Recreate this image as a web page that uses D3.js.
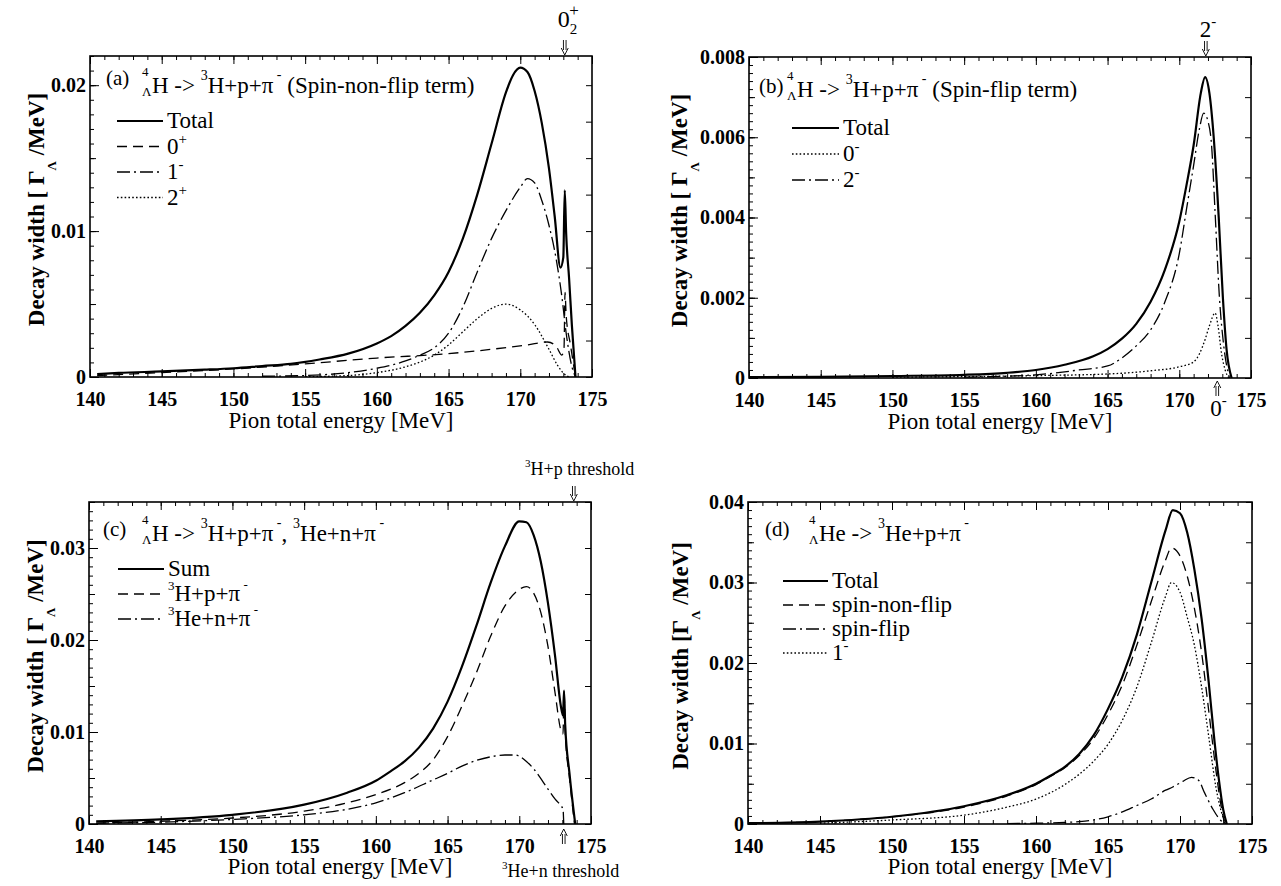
<!DOCTYPE html>
<html>
<head>
<meta charset="utf-8">
<script src="https://cdn.jsdelivr.net/npm/d3@7"></script>
<style>
  body { margin: 0; background: #fff; }
  svg { display: block; background: #fff; }
</style>
</head>
<body>
<div id="chart"></div>
<script>
// ---------------- data (pion energy [MeV], decay width [Gamma_Lambda/MeV]) ----------------
const energyTicks = [140, 145, 150, 155, 160, 165, 170, 175];
const yTicksA = [0, 0.01, 0.02];
const yTicksB = [0, 0.002, 0.004, 0.006, 0.008];
const yTicksC = [0, 0.01, 0.02, 0.03];
const yTicksD = [0, 0.01, 0.02, 0.03, 0.04];

// (a) spin-non-flip term
const aTotal = [[140.5,0.0002],[142,0.00028],[145,0.00038],[148,0.0005],[150,0.0006],[152,0.00075],[154,0.0009],[156,0.0012],[158,0.0016],[160,0.0023],[161,0.0028],[162,0.0035],[163,0.0044],[164,0.0056],[165,0.0072],[166,0.0095],[167,0.0125],[168,0.016],[169,0.0195],[169.5,0.0207],[170,0.0212],[170.5,0.0209],[171,0.0196],[171.5,0.0174],[172,0.0143],[172.4,0.011],[172.8,0.0075],[173.0,0.0082],[173.1,0.0128],[173.2,0.0098],[173.4,0.0068],[173.6,0.0035],[173.85,0]];
const aZeroPlus = [[140.5,0.0001],[145,0.0003],[150,0.00055],[155,0.0009],[160,0.0013],[165,0.0016],[168,0.0019],[170.5,0.0022],[171.9,0.0024],[172.5,0.0021],[172.9,0.0015],[173.05,0.002],[173.12,0.0058],[173.2,0.0042],[173.5,0.0022],[173.85,0]];
const aOneMinus = [[152,0.00005],[155,0.0001],[158,0.0003],[160,0.0006],[162,0.0011],[163,0.0015],[164,0.002],[165,0.003],[166,0.0048],[167,0.0072],[168,0.0095],[169,0.0114],[170,0.013],[170.5,0.0136],[171,0.0133],[171.5,0.0121],[172,0.0104],[172.5,0.0081],[172.9,0.0055],[173.2,0.003],[173.6,0.0007],[173.85,0]];
const aTwoPlus = [[155,0.00002],[158,0.0001],[160,0.0003],[162,0.0007],[164,0.0015],[165,0.0022],[166,0.0031],[167,0.004],[168,0.0047],[169,0.005],[170,0.0046],[171,0.0036],[172,0.0019],[172.6,0.0008],[173.2,0.0001],[173.4,0]];

// (b) spin-flip term
const bTotal = [[140,0.00002],[145,0.00003],[150,0.00005],[155,0.00008],[158,0.00013],[160,0.0002],[162,0.00033],[164,0.00054],[165,0.00072],[166,0.00098],[167,0.00135],[168,0.0019],[169,0.0027],[170,0.0039],[170.5,0.0048],[171,0.0058],[171.5,0.0071],[171.8,0.0075],[172.1,0.0071],[172.4,0.006],[172.75,0.004],[173.04,0.002],[173.3,0.0007],[173.65,0]];
const bZeroMinus = [[150,0.00002],[160,0.00006],[165,0.0001],[168,0.00018],[170,0.00028],[171,0.0004],[171.4,0.0006],[171.8,0.00096],[172.1,0.0013],[172.5,0.00162],[172.7,0.0013],[172.95,0.0006],[173.2,0.0002],[173.45,0]];
const bTwoMinus = [[155,0.00002],[160,0.00008],[163,0.0002],[165,0.0003],[166,0.0005],[167,0.0008],[168,0.0012],[169,0.0019],[170,0.0031],[170.5,0.0042],[171,0.0053],[171.4,0.0062],[171.7,0.0066],[172,0.0064],[172.25,0.0058],[172.5,0.0041],[172.8,0.002],[173.1,0.0008],[173.5,0]];

// (c) both channels
const cSum = [[140.5,0.0003],[145,0.0005],[150,0.001],[155,0.0021],[158,0.0034],[160,0.0047],[161,0.0057],[162,0.0068],[163,0.0083],[164,0.0104],[165,0.0133],[166,0.0171],[167,0.0215],[168,0.0262],[169,0.0302],[170,0.0329],[170.5,0.0328],[171,0.0314],[171.5,0.0285],[172,0.024],[172.5,0.0182],[172.9,0.0128],[173.05,0.0118],[173.12,0.0145],[173.2,0.0108],[173.5,0.0055],[173.9,0]];
const cTritonP = [[140.5,0.0001],[145,0.0003],[150,0.00065],[155,0.0014],[158,0.0023],[160,0.0032],[162,0.0045],[163,0.0055],[164,0.007],[165,0.0095],[166,0.0128],[167,0.0164],[168,0.0204],[169,0.0237],[170,0.0255],[170.5,0.0258],[171,0.0251],[171.5,0.023],[172,0.0193],[172.5,0.0142],[172.9,0.0102],[173.05,0.0098],[173.12,0.0146],[173.2,0.01],[173.5,0.005],[173.85,0]];
const cHelionN = [[140.5,0.0001],[145,0.0002],[150,0.0005],[155,0.001],[158,0.0016],[160,0.0023],[162,0.0034],[164,0.0048],[165,0.0055],[166,0.0063],[167,0.0069],[168,0.0073],[169,0.0075],[169.7,0.0075],[170.5,0.0068],[171,0.006],[172,0.0038],[172.5,0.0027],[172.9,0.002],[173.05,0.0016],[173.1,0]];

// (d) 4He_Lambda
const dTotal = [[140,0.0001],[145,0.0003],[150,0.0009],[155,0.0022],[158,0.0036],[160,0.005],[161,0.006],[162,0.0071],[163,0.0087],[164,0.011],[165,0.0143],[166,0.0183],[167,0.0235],[168,0.03],[169,0.0365],[169.5,0.039],[170,0.0386],[170.5,0.0362],[171,0.0316],[171.5,0.0255],[172,0.0175],[172.4,0.0102],[172.7,0.0055],[173,0.0018],[173.25,0]];
const dNonFlip = [[140,0.0001],[145,0.0003],[150,0.0009],[155,0.0021],[158,0.0035],[160,0.0049],[161,0.0059],[162,0.007],[163,0.0085],[164,0.0106],[165,0.0136],[166,0.0173],[167,0.0222],[168,0.0276],[169,0.0328],[169.4,0.0343],[170,0.0333],[170.5,0.0308],[171,0.0268],[171.5,0.0213],[172,0.014],[172.5,0.0066],[172.8,0.0028],[173.1,0]];
const dFlip = [[158,0.00005],[160,0.0001],[162,0.0002],[163,0.0003],[164,0.0005],[165,0.0009],[166,0.0015],[167,0.0023],[168,0.0031],[169,0.0042],[169.5,0.0046],[170.2,0.0053],[170.8,0.0058],[171.3,0.0054],[171.7,0.0039],[172.3,0.0018],[172.8,0.0005],[173.2,0]];
const dOneMinus = [[145,0.0001],[150,0.0005],[155,0.0011],[158,0.0021],[160,0.0031],[162,0.0049],[164,0.0078],[165,0.0099],[166,0.0129],[167,0.017],[168,0.0225],[169,0.0283],[169.4,0.03],[170,0.0288],[170.5,0.0257],[171,0.0222],[171.5,0.017],[172,0.0108],[172.5,0.0045],[173,0.0008],[173.2,0]];

// ---------------- helpers ----------------
const W = 1281, H = 886;
const SERIF = "'Liberation Serif', 'DejaVu Serif', 'Times New Roman', serif";
const svg = d3.select("#chart").append("svg").attr("width", W).attr("height", H)
    .attr("font-family", SERIF);

const dashes = { solid: null, dashed: "10,6", dashdot: "13,4,2,4", dotted: "1.6,2.2" };

// part shortcuts for rich text: baseline offsets are absolute
const n = (t) => ({t: t});
const sup = (t, s, dy) => ({t: t, s: s || 14, dy: dy === undefined ? -10 : dy});
const sub = (t, s, dy) => ({t: t, s: s || 13, dy: dy === undefined ? 5 : dy});

function rich(g, x, y, size, parts, weight) {
    let text = g.append("text").attr("x", x).attr("y", y).attr("font-size", size)
        .attr("font-family", SERIF).attr("fill", "#000");
    if (weight) text.attr("font-weight", weight);
    let shift = 0;
    parts.forEach(function(p){
        let target = p.dy || 0;
        let ts = text.append("tspan").text(p.t).attr("dy", target - shift).attr("font-size", p.s || size);
        if (p.dx) ts.attr("dx", p.dx);
        shift = target;
    });
    return text;
}

// nucleus symbol with stacked mass number (4) over Lambda
function hyper(sym) {
    return [sup("4", 13, -17), {t: "\u039B", s: 13, dy: 3, dx: -6.5}, {t: sym, dx: 0.5}];
}

function arrow(g, x, yTip, dir) {
    // dir = 1 points down, -1 points up
    let y0 = yTip - dir * 15, y1 = yTip - dir * 5;
    g.append("line").attr("x1", x - 1.3).attr("x2", x - 1.3).attr("y1", y0).attr("y2", y1).attr("stroke", "#000").attr("stroke-width", 0.9);
    g.append("line").attr("x1", x + 1.3).attr("x2", x + 1.3).attr("y1", y0).attr("y2", y1).attr("stroke", "#000").attr("stroke-width", 0.9);
    g.append("path").attr("d", `M${x - 3.5},${yTip - dir * 7} L${x},${yTip} L${x + 3.5},${yTip - dir * 7}`)
        .attr("fill", "none").attr("stroke", "#000").attr("stroke-width", 0.9);
}

/** Class drawing one decay-width panel. */
class DecayPanel {

    constructor(cfg) {
        this.cfg = cfg;
        this.g = svg.append("g");
        this.x = d3.scaleLinear().domain([140, 175]).range([cfg.l, cfg.r]);
        this.y = d3.scaleLinear().domain([0, cfg.yMax]).range([cfg.b, cfg.t]);
    }

    axes() {
        let c = this.cfg, g = this.g, x = this.x, y = this.y;
        let minorE = d3.range(140, 175.5, 1);
        let eps = c.yMax * 1e-6;
        let minorY = d3.range(0, c.yMax + eps, c.yMinor);
        let midY = d3.range(0, c.yMax + eps, c.yMid);
        let rightY = d3.range(0, c.yMax + eps, c.yRight);
        let clean = s => { s.select(".domain").remove(); s.selectAll("line").attr("stroke-width", 1); };
        let boldText = s => s.attr("font-family", SERIF).selectAll("text")
            .attr("font-size", 20).attr("font-weight", "bold").attr("font-family", SERIF);

        // bottom and top
        g.append("g").attr("transform", `translate(0,${c.b})`).call(d3.axisBottom(x).tickValues(minorE).tickSize(-4).tickFormat("")).call(clean);
        g.append("g").attr("transform", `translate(0,${c.b})`)
            .call(d3.axisBottom(x).tickValues(energyTicks).tickSize(-8).tickPadding(15).tickFormat(d3.format("d")))
            .call(clean).call(boldText);
        g.append("g").attr("transform", `translate(0,${c.t})`).call(d3.axisTop(x).tickValues(minorE).tickSize(-4).tickFormat("")).call(clean);
        g.append("g").attr("transform", `translate(0,${c.t})`).call(d3.axisTop(x).tickValues(energyTicks).tickSize(-8).tickFormat("")).call(clean);

        // left
        g.append("g").attr("transform", `translate(${c.l},0)`).call(d3.axisLeft(y).tickValues(minorY).tickSize(-4).tickFormat("")).call(clean);
        g.append("g").attr("transform", `translate(${c.l},0)`).call(d3.axisLeft(y).tickValues(midY).tickSize(-6).tickFormat("")).call(clean);
        g.append("g").attr("transform", `translate(${c.l},0)`)
            .call(d3.axisLeft(y).tickValues(c.yTicks).tickSize(-9).tickPadding(4)
                .tickFormat(d => d === 0 ? "0" : d3.format(".3~f")(d)))
            .call(clean).call(boldText);
        // right
        g.append("g").attr("transform", `translate(${c.r},0)`).call(d3.axisRight(y).tickValues(rightY).tickSize(-6).tickFormat("")).call(clean);

        g.append("rect").attr("x", c.l).attr("y", c.t).attr("width", c.r - c.l).attr("height", c.b - c.t)
            .attr("fill", "none").attr("stroke", "#000").attr("stroke-width", 1.6);

        // axis titles
        rich(g, (c.l + c.r) / 2, c.b + c.xTitleDy, 23, [n("Pion total energy [MeV]")]).attr("text-anchor", "middle");
        let yt = g.append("g").attr("transform", `translate(${c.l - c.yTitleDx},${(c.t + c.b) / 2 - 7}) rotate(-90)`);
        rich(yt, 0, 0, 23, [n(c.yTitle), {t: "\u039B", s: 13, dy: 12}, {t: " /MeV]", dy: 0}], "bold").attr("text-anchor", "middle");
    }

    update(series) {
        let self = this, c = this.cfg;
        let clipId = "clip-" + c.id;
        this.g.append("clipPath").attr("id", clipId).append("rect")
            .attr("x", c.l).attr("y", c.t - 2).attr("width", c.r - c.l).attr("height", c.b - c.t + 2);
        let line = d3.line().x(d => self.x(d[0])).y(d => self.y(d[1])).curve(d3.curveMonotoneX);

        this.g.append("g").attr("clip-path", `url(#${clipId})`)
            .selectAll("path").data(series).enter().append("path")
            .attr("d", d => line(d.values))
            .attr("fill", "none")
            .attr("stroke", "#000")
            .attr("stroke-width", d => d.style === "solid" ? 2.2 : 1.3)
            .attr("stroke-dasharray", d => dashes[d.style]);

        // legend
        let lg = this.g.append("g");
        series.forEach(function(s, i){
            let yb = c.legend.y + i * c.legend.step;
            lg.append("line").attr("x1", c.legend.x1).attr("x2", c.legend.x2)
                .attr("y1", yb - 7).attr("y2", yb - 7)
                .attr("stroke", "#000").attr("stroke-width", s.style === "solid" ? 2.2 : 1.3)
                .attr("stroke-dasharray", dashes[s.style]);
            rich(lg, c.legend.x2 + 4, yb, 23, s.label);
        });

        // panel heading
        rich(this.g, c.tag.x, c.tag.y, 21, [n(c.tag.t)]);
        rich(this.g, c.head.x, c.head.y, 23, c.head.parts);
    }
}

// ---------------- panels ----------------
const panelA = new DecayPanel({id: "a", l: 90, r: 592, t: 56, b: 377, yMax: 0.022, yTicks: yTicksA,
    yMinor: 0.001, yMid: 0.005, yRight: 0.0025, xTitleDy: 51, yTitleDx: 46, yTitle: "Decay width  [ \u0393",
    legend: {x1: 117, x2: 163, y: 128, step: 25.5},
    tag: {x: 106, y: 85, t: "(a)"},
    head: {x: 142, y: 93, parts: hyper("H -> ").concat([sup("3", 14, -13), n("H+p+\u03C0"), sup(" -", 14, -14), n(" (Spin-non-flip term)")])}});
panelA.axes();
panelA.update([
    {values: aTotal, style: "solid", label: [n("Total")]},
    {values: aZeroPlus, style: "dashed", label: [n("0"), sup("+", 15)]},
    {values: aOneMinus, style: "dashdot", label: [n("1"), sup("-", 15)]},
    {values: aTwoPlus, style: "dotted", label: [n("2"), sup("+", 15)]}
]);

const panelB = new DecayPanel({id: "b", l: 749, r: 1251, t: 57, b: 378, yMax: 0.008, yTicks: yTicksB,
    yMinor: 0.0002, yMid: 0.001, yRight: 0.001, xTitleDy: 51, yTitleDx: 62, yTitle: "Decay width  [ \u0393",
    legend: {x1: 792, x2: 839, y: 135, step: 26},
    tag: {x: 759, y: 93, t: "(b)"},
    head: {x: 787, y: 97, parts: hyper("H -> ").concat([sup("3", 14, -13), n("H+p+\u03C0"), sup(" -", 14, -14), n(" (Spin-flip term)")])}});
panelB.axes();
panelB.update([
    {values: bTotal, style: "solid", label: [n("Total")]},
    {values: bZeroMinus, style: "dotted", label: [n("0"), sup("-", 15)]},
    {values: bTwoMinus, style: "dashdot", label: [n("2"), sup("-", 15)]}
]);

const panelC = new DecayPanel({id: "c", l: 89, r: 591, t: 502, b: 824, yMax: 0.035, yTicks: yTicksC,
    yMinor: 0.001, yMid: 0.005, yRight: 0.005, xTitleDy: 50, yTitleDx: 46, yTitle: "Decay width  [ \u0393",
    legend: {x1: 118, x2: 164, y: 576, step: 25},
    tag: {x: 103, y: 536, t: "(c)"},
    head: {x: 142, y: 541, parts: hyper("H -> ").concat([sup("3", 14, -13), n("H+p+\u03C0"), sup(" -", 14, -14), n(", "),
        sup("3", 14, -13), n("He+n+\u03C0"), sup(" -", 14, -14)])}});
panelC.axes();
panelC.update([
    {values: cSum, style: "solid", label: [n("Sum")]},
    {values: cTritonP, style: "dashed", label: [sup("3", 13, -11), n("H+p+\u03C0"), sup(" -", 13, -12)]},
    {values: cHelionN, style: "dashdot", label: [sup("3", 13, -11), n("He+n+\u03C0"), sup(" -", 13, -12)]}
]);

const panelD = new DecayPanel({id: "d", l: 748, r: 1252, t: 502, b: 824, yMax: 0.04, yTicks: yTicksD,
    yMinor: 0.001, yMid: 0.005, yRight: 0.005, xTitleDy: 50, yTitleDx: 60, yTitle: "Decay width [\u0393",
    legend: {x1: 783, x2: 828, y: 588, step: 24},
    tag: {x: 765, y: 536, t: "(d)"},
    head: {x: 809, y: 541, parts: hyper("He -> ").concat([sup("3", 14, -13), n("He+p+\u03C0"), sup(" -", 14, -14)])}});
panelD.axes();
panelD.update([
    {values: dTotal, style: "solid", label: [n("Total")]},
    {values: dNonFlip, style: "dashed", label: [n("spin-non-flip")]},
    {values: dFlip, style: "dashdot", label: [n("spin-flip")]},
    {values: dOneMinus, style: "dotted", label: [n("1"), sup("-", 15)]}
]);

// ---------------- threshold / resonance markers ----------------
const ann = svg.append("g");
arrow(ann, panelA.x(173.1), panelA.cfg.t - 1, 1);
rich(ann, panelA.x(173.1) - 7, 27, 24, [n("0"), sub("2", 15, 7), {t: "+", s: 17, dy: -11, dx: -8}]);

arrow(ann, panelB.x(171.85), panelB.cfg.t - 1, 1);
rich(ann, panelB.x(171.85) - 6, 37, 23, [n("2"), sup("-", 15, -11)]);
arrow(ann, panelB.x(172.65), panelB.cfg.b + 3, -1);
rich(ann, panelB.x(172.65) - 7, 416, 23, [n("0"), sup("-", 15, -11)]);

arrow(ann, panelC.x(173.8), panelC.cfg.t - 1, 1);
rich(ann, 525, 475, 18, [sup("3", 11, -8), n("H+p threshold")]);
arrow(ann, panelC.x(173.1), panelC.cfg.b + 5, -1);
rich(ann, 502, 877, 18, [sup("3", 11, -8), n("He+n threshold")]);
</script>
</body>
</html>
